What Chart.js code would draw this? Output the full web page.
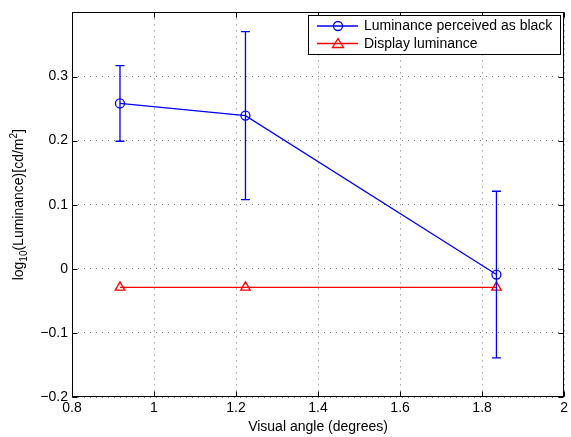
<!DOCTYPE html>
<html>
<head>
<meta charset="utf-8">
<script src="https://cdn.jsdelivr.net/npm/chart.js@4"></script>
<style>
    html, body { margin: 0; padding: 0; background: #fff; }
    #wrap { width: 571px; height: 437px; }
</style>
</head>
<body>
<div id="wrap"><canvas id="chart" width="571" height="437"></canvas></div>
<script>
// data
const visualAngles = [0.917, 1.223, 1.835];
const perceivedBlack = [0.258, 0.239, -0.009];
const perceivedBlackErr = [0.059, 0.131, 0.130];
const displayLuminance = [-0.029, -0.029, -0.029];
const xTicks = [0.8, 1, 1.2, 1.4, 1.6, 1.8, 2];
const yTicks = [-0.2, -0.1, 0, 0.1, 0.2, 0.3, 0.4];
const seriesNames = ['Luminance perceived as black', 'Display luminance'];

const FONT = '"Liberation Sans", Arial, Helvetica, sans-serif';
const LINE_W = 1.3;

const toPoints = (xs, ys) => xs.map((x, i) => ({ x: x, y: ys[i] }));

// error bars, box, inward ticks, legend and axis titles (matlab look)
const matlabPlugin = {
    id: 'matlabLook',
    afterDatasetsDraw(chart) {
        const ctx = chart.ctx;
        const xs = chart.scales.x;
        const ys = chart.scales.y;
        const area = chart.chartArea;

        // error bars
        ctx.save();
        ctx.strokeStyle = '#0000ff';
        ctx.lineWidth = LINE_W;
        visualAngles.forEach((a, i) => {
            const px = xs.getPixelForValue(a);
            const top = ys.getPixelForValue(perceivedBlack[i] + perceivedBlackErr[i]);
            const bot = ys.getPixelForValue(perceivedBlack[i] - perceivedBlackErr[i]);
            ctx.beginPath();
            ctx.moveTo(px, top); ctx.lineTo(px, bot);
            ctx.moveTo(px - 4.5, top); ctx.lineTo(px + 4.5, top);
            ctx.moveTo(px - 4.5, bot); ctx.lineTo(px + 4.5, bot);
            ctx.stroke();
        });
        ctx.restore();

        // box + ticks
        ctx.save();
        ctx.strokeStyle = '#000';
        ctx.lineWidth = 1;
        const l = Math.round(area.left) + 0.5, r = Math.round(area.right) - 0.5;
        const t = Math.round(area.top) + 0.5, b = Math.round(area.bottom) - 0.5;
        ctx.strokeRect(l, t, r - l, b - t);
        ctx.beginPath();
        xTicks.forEach(v => {
            const px = Math.round(xs.getPixelForValue(v)) + 0.5;
            ctx.moveTo(px, b); ctx.lineTo(px, b - 5);
            ctx.moveTo(px, t); ctx.lineTo(px, t + 5);
        });
        yTicks.forEach(v => {
            const py = Math.round(ys.getPixelForValue(v)) + 0.5;
            ctx.moveTo(l, py); ctx.lineTo(l + 5, py);
            ctx.moveTo(r, py); ctx.lineTo(r - 5, py);
        });
        ctx.stroke();
        ctx.restore();

        // legend
        ctx.save();
        const lx = 308.5, ly = 15.5, lw = 252, lh = 39;
        ctx.fillStyle = '#fff';
        ctx.fillRect(lx, ly, lw, lh);
        ctx.strokeStyle = '#000';
        ctx.lineWidth = 1;
        ctx.strokeRect(lx, ly, lw, lh);
        const rows = [
            { name: seriesNames[0], color: '#0000ff', marker: 'circle', y: 26 },
            { name: seriesNames[1], color: '#ff0000', marker: 'triangle', y: 43.5 }
        ];
        rows.forEach(row => {
            ctx.strokeStyle = row.color;
            ctx.lineWidth = LINE_W;
            ctx.beginPath();
            ctx.moveTo(317, row.y); ctx.lineTo(358, row.y);
            ctx.stroke();
            ctx.beginPath();
            if (row.marker === 'circle') {
                ctx.arc(338, row.y, 4.5, 0, Math.PI * 2);
            } else {
                ctx.moveTo(338, row.y - 5);
                ctx.lineTo(343.5, row.y + 4);
                ctx.lineTo(332.5, row.y + 4);
                ctx.closePath();
            }
            ctx.stroke();
            ctx.fillStyle = '#000';
            ctx.font = '14px ' + FONT;
            ctx.textBaseline = 'middle';
            ctx.fillText(row.name, 364, row.y + 0.5);
        });
        ctx.restore();

        // x title
        ctx.save();
        ctx.fillStyle = '#000';
        ctx.font = '14px ' + FONT;
        ctx.textAlign = 'center';
        ctx.textBaseline = 'middle';
        ctx.fillText('Visual angle (degrees)', (area.left + area.right) / 2, 427);
        ctx.restore();

        // y title with sub/superscript
        ctx.save();
        ctx.translate(18, (area.top + area.bottom) / 2);
        ctx.rotate(-Math.PI / 2);
        ctx.fillStyle = '#000';
        ctx.textBaseline = 'alphabetic';
        const big = '14px ' + FONT, small = '10px ' + FONT;
        const parts = [
            { s: 'log', f: big, dy: 0 },
            { s: '10', f: small, dy: 4 },
            { s: '(Luminance)[cd/m', f: big, dy: 0 },
            { s: '2', f: small, dy: -6 },
            { s: ']', f: big, dy: 0 }
        ];
        let total = 0;
        parts.forEach(p => { ctx.font = p.f; total += ctx.measureText(p.s).width; });
        let cx = -total / 2;
        parts.forEach(p => {
            ctx.font = p.f;
            ctx.fillText(p.s, cx, 5 + p.dy);
            cx += ctx.measureText(p.s).width;
        });
        ctx.restore();
    }
};

new Chart(document.getElementById('chart'), {
    type: 'line',
    data: {
        datasets: [
            {
                label: seriesNames[0],
                data: toPoints(visualAngles, perceivedBlack),
                borderColor: '#0000ff',
                borderWidth: LINE_W,
                pointStyle: 'circle',
                pointRadius: 4.5,
                pointBorderColor: '#0000ff',
                pointBackgroundColor: 'rgba(0,0,0,0)',
                pointBorderWidth: LINE_W,
                tension: 0
            },
            {
                label: seriesNames[1],
                data: toPoints(visualAngles, displayLuminance),
                borderColor: '#ff0000',
                borderWidth: LINE_W,
                pointStyle: 'triangle',
                pointRadius: 5.5,
                pointBorderColor: '#ff0000',
                pointBackgroundColor: 'rgba(0,0,0,0)',
                pointBorderWidth: LINE_W,
                tension: 0
            }
        ]
    },
    options: {
        responsive: false,
        animation: false,
        layout: { padding: { top: 7, right: 4, left: 0, bottom: 0 } },
        plugins: {
            legend: { display: false },
            tooltip: { enabled: false }
        },
        scales: {
            x: {
                type: 'linear',
                min: 0.8,
                max: 2,
                afterFit: s => { s.height = 40; },
                afterBuildTicks: s => { s.ticks = xTicks.map(v => ({ value: v })); },
                grid: { color: 'rgba(0,0,0,0.55)', drawTicks: false, lineWidth: 1 },
                border: { display: false, dash: [1, 5] },
                ticks: {
                    color: '#000',
                    font: { family: FONT, size: 14 },
                    padding: 3,
                    maxRotation: 0,
                    callback: v => String(Math.round(v * 10) / 10)
                }
            },
            y: {
                min: -0.2,
                max: 0.4,
                afterFit: s => { s.width = 72; },
                afterBuildTicks: s => { s.ticks = yTicks.map(v => ({ value: v })); },
                grid: { color: 'rgba(0,0,0,0.55)', drawTicks: false, lineWidth: 1 },
                border: { display: false, dash: [1, 5] },
                ticks: {
                    color: '#000',
                    font: { family: FONT, size: 14 },
                    padding: 4,
                    callback: v => {
                        const r = Math.round(v * 10) / 10;
                        if (r >= 0.4) return '';
                        if (r === 0) return '0';
                        return r < 0 ? '\u2212' + Math.abs(r) : String(r);
                    }
                }
            }
        }
    },
    plugins: [matlabPlugin]
});
</script>
</body>
</html>
